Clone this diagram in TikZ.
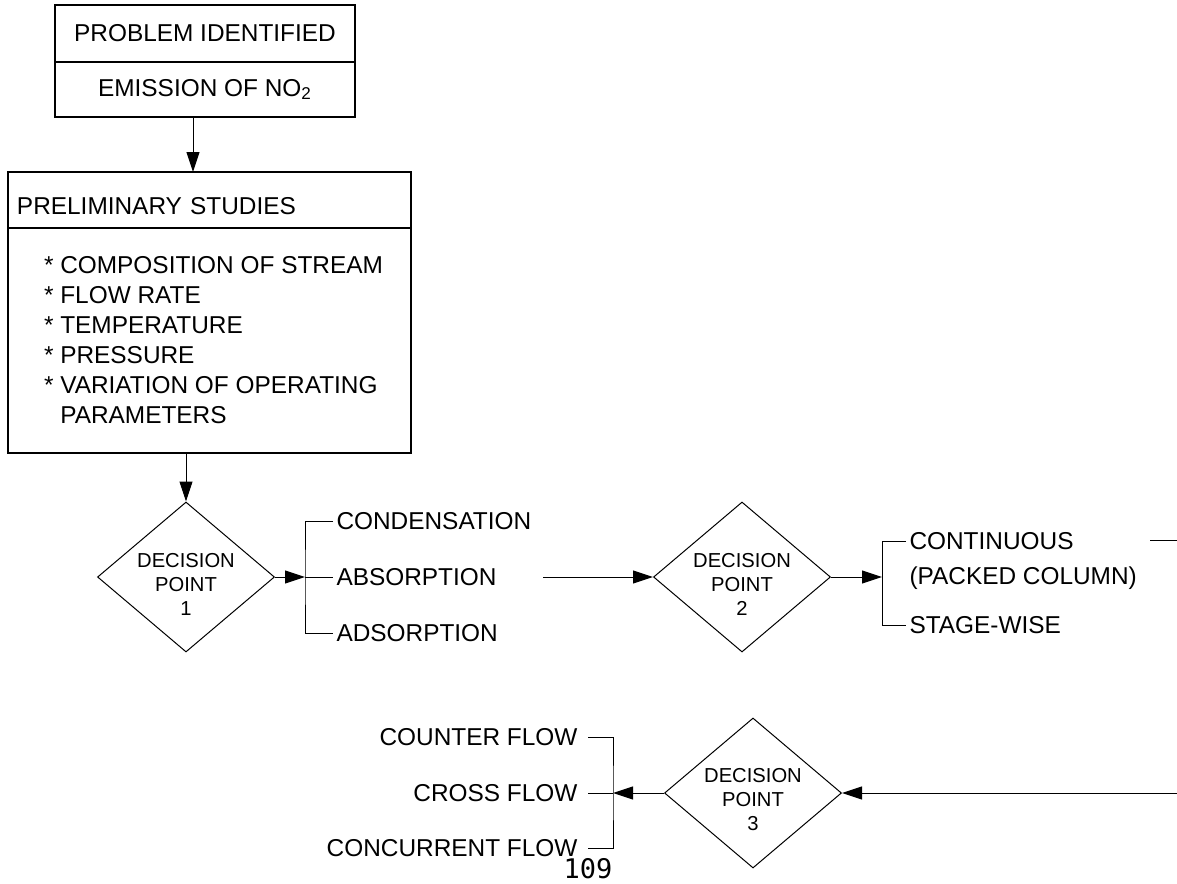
\documentclass[tikz,border=0pt]{standalone}
\usepackage{fontspec}
\setmainfont{Liberation Sans}
\newfontfamily\pagefont{DejaVu Sans Mono}
\usetikzlibrary{arrows.meta, shapes.geometric, positioning, calc}

\begin{document}
\begin{tikzpicture}[
    x=0.5pt, y=-0.5pt,
    font=\fontsize{12.2}{15}\selectfont,
    >={Triangle[length=10pt, width=6.5pt]},
    line width=0.5pt,
    % Boxes and decision diamonds
    flow_box/.style={draw, line width=0.6pt, outer sep=0pt, inner sep=0pt},
    decision/.style={diamond, draw, minimum width=88.5pt, minimum height=75pt, inner sep=0pt},
    decision_text/.style={align=center, inner sep=0pt, yshift=-3.5pt, font=\fontsize{10.1}{12}\selectfont},
    % Options listed beside the brackets
    option_right/.style={anchor=west, inner xsep=1.5pt, inner ysep=0pt},
    option_left/.style={anchor=east, inner xsep=5pt, inner ysep=0pt}
]

\useasboundingbox (0,0) rectangle (1177,883);

% --- 1. Problem statement ---
\node[flow_box, minimum width=150pt, minimum height=28.5pt] (problem) at (205,33.5) {PROBLEM IDENTIFIED};
\node[flow_box, minimum width=150pt, minimum height=27.5pt, below=0pt of problem] (emission) {EMISSION OF NO\textsubscript{2}};

% --- 2. Preliminary studies ---
\node[flow_box, minimum width=201.5pt, minimum height=28pt, text width=192.5pt, inner xsep=4.5pt, align=left,
      text height=14.7pt, text depth=0pt]
    (prelim_head) at (209.5,200) {PRELIMINARY STUDIES};
\node[flow_box, minimum width=201.5pt, minimum height=112.5pt, align=left, below=0pt of prelim_head]
    (prelim_body) {\hspace*{4pt}* COMPOSITION OF STREAM\\
     \hspace*{4pt}* FLOW RATE\\
     \hspace*{4pt}* TEMPERATURE\\
     \hspace*{4pt}* PRESSURE\\
     \hspace*{4pt}* VARIATION OF OPERATING\\
     \hspace*{4pt}\hphantom{* }PARAMETERS};

\coordinate (emission_out) at ($(emission.south)+(-12,0)$);
\draw[->] (emission_out) -- (emission_out |- prelim_head.north);

% --- 3. Decision point 1 ---
\node[decision, label={[decision_text]center:DECISION\\POINT\\1}] (dp1) at (186,577) {};
\draw[->] (prelim_body.south -| dp1) -- (dp1.north);

\coordinate (fork1) at (305,577);
\node[option_right] (condensation) at (333,521) {CONDENSATION};
\node[option_right] (absorption) at (333,577) {ABSORPTION};
\node[option_right] (adsorption) at (333,633) {ADSORPTION};
\draw[->] (dp1.east) -- (fork1);
\draw (condensation.west) -| (fork1) |- (adsorption.west);
\draw (fork1) -- (absorption.west);

% --- 4. Decision point 2 ---
\node[decision, label={[decision_text]center:DECISION\\POINT\\2}] (dp2) at (742,577) {};
\coordinate (absorption_out) at (543,577);
\draw[->] (absorption_out) -- (dp2.west);

\coordinate (fork2) at (882,577);
\node[option_right] (continuous) at (906,541) {CONTINUOUS};
\node[option_right] (packed) at (906,578) {(PACKED COLUMN)};
\node[option_right] (stagewise) at (906,625) {STAGE-WISE};
\draw[->] (dp2.east) -- (fork2);
\draw (continuous.west) -| (fork2) |- (stagewise.west);

\coordinate (continuous_out) at (1150,540);
\coordinate (edge_top) at (1177,540);
\draw (continuous_out) -- (edge_top);

% --- 5. Decision point 3 ---
\node[decision, label={[decision_text]center:DECISION\\POINT\\3}] (dp3) at (753,793) {};
\coordinate (edge_bottom) at (1177,793);
\draw[->] (edge_bottom) -- (dp3.east);

\coordinate (fork3) at (613,793);
\node[option_left] (counter) at (588,737) {COUNTER FLOW};
\node[option_left] (cross) at (588,793) {CROSS FLOW};
\node[option_left] (concurrent) at (588,848) {CONCURRENT FLOW};
\draw[->] (dp3.west) -- (fork3);
\draw (counter.east) -| (fork3) |- (concurrent.east);
\draw (fork3) -- (cross.east);

% page number
\node[font=\pagefont\fontsize{13.5}{15}\selectfont, inner sep=0pt] (page_num) at (588,869) {109};

\end{tikzpicture}
\end{document}
